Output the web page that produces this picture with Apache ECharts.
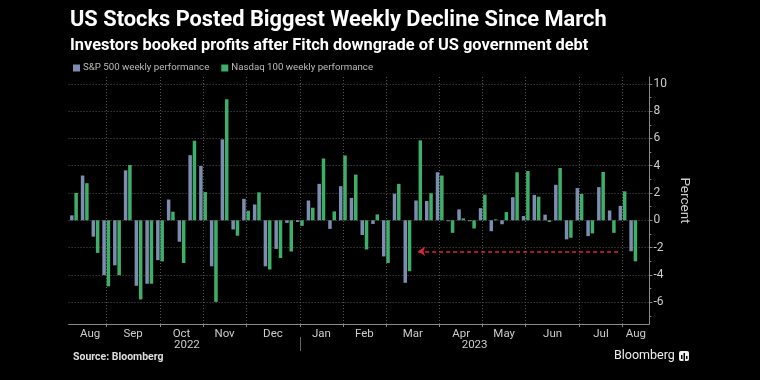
<!DOCTYPE html>
<html>
<head>
<meta charset="utf-8">
<script src="https://cdn.jsdelivr.net/npm/echarts@6/dist/echarts.min.js"></script>
<style>
html,body{margin:0;padding:0;background:#000;}
#chart{width:760px;height:380px;}
</style>
</head>
<body>
<div id="chart"></div>
<script>
// ---- data ----
const weeks = [
  '2022-08-05','2022-08-12','2022-08-19','2022-08-26',
  '2022-09-02','2022-09-09','2022-09-16','2022-09-23','2022-09-30',
  '2022-10-07','2022-10-14','2022-10-21','2022-10-28',
  '2022-11-04','2022-11-11','2022-11-18','2022-11-25',
  '2022-12-02','2022-12-09','2022-12-16','2022-12-23','2022-12-30',
  '2023-01-06','2023-01-13','2023-01-20','2023-01-27',
  '2023-02-03','2023-02-10','2023-02-17','2023-02-24',
  '2023-03-03','2023-03-10','2023-03-17','2023-03-24','2023-03-31',
  '2023-04-06','2023-04-14','2023-04-21','2023-04-28',
  '2023-05-05','2023-05-12','2023-05-19','2023-05-26',
  '2023-06-02','2023-06-09','2023-06-16','2023-06-23','2023-06-30',
  '2023-07-07','2023-07-14','2023-07-21','2023-07-28',
  '2023-08-04'
];
const sp500 = [0.36, 3.28, -1.2, -4.02, -3.3, 3.66, -4.8, -4.65, -2.92, 1.52, -1.57, 4.77, 3.98,
  -3.37, 5.93, -0.67, 1.57, 1.16, -3.37, -2.1, -0.19, -0.12, 1.45, 2.67, -0.63, 2.5, 1.64, -1.08,
  -0.27, -2.65, 1.95, -4.58, 1.45, 1.42, 3.52, -0.07, 0.8, -0.07, 0.89, -0.8, -0.29, 1.69, 0.31,
  1.86, 0.41, 2.6, -1.4, 2.36, -1.16, 2.43, 0.72, 1.06, -2.27];
const nasdaq100 = [2.0, 2.72, -2.39, -4.84, -4.02, 4.05, -5.8, -4.65, -3.01, 0.63, -3.13, 5.83, 2.07,
  -5.98, 8.87, -1.13, 0.7, 2.05, -3.61, -2.77, -2.29, -0.41, 0.92, 4.53, 0.65, 4.75, 3.35, -2.14,
  0.43, -3.13, 2.67, -3.73, 5.86, 1.98, 3.28, -0.92, 0.14, -0.6, 1.88, 0.07, 0.6, 3.52, 3.61,
  1.73, -0.12, 3.83, -1.28, 1.93, -0.96, 3.54, -0.92, 2.12, -3.01];
const monthNames = ['Jan','Feb','Mar','Apr','May','Jun','Jul','Aug','Sep','Oct','Nov','Dec'];
const yMajorTicks = [-6, -4, -2, 0, 2, 4, 6, 8, 10];
const yMinorTicks = [-7, -5, -3, -1, 1, 3, 5, 7, 9];
// annotation: reference line at latest S&P decline back to March
const refLineFrom = 32.2;   // week index (mid March)
const refLineTo = 51;       // week index (end of July)
const seriesNames = ['S&P 500 weekly performance', 'Nasdaq 100 weekly performance'];

// ---- derived axis positions ----
const X_MIN = -0.5, X_MAX = 53.5;
const GRID_LEFT = 68.6, GRID_RIGHT = 110.6, CHART_W = 760;
const monthKey = d => d.slice(0, 7);
const seps = [];
for (let i = 0; i < weeks.length - 1; i++) {
  if (monthKey(weeks[i]) !== monthKey(weeks[i + 1])) seps.push(i);
}
const edges = [0].concat(seps).concat([X_MAX]);
const monthLabels = [];
for (let k = 0; k < edges.length - 1; k++) {
  const idx = k === 0 ? 0 : seps[k - 1] + 1;
  monthLabels.push({ pos: (edges[k] + edges[k + 1]) / 2, text: monthNames[+weeks[idx].slice(5, 7) - 1] });
}
const yearSeps = [];
for (let i = 0; i < weeks.length - 1; i++) {
  if (weeks[i].slice(0, 4) !== weeks[i + 1].slice(0, 4)) yearSeps.push(i);
}
const yEdges = [0].concat(yearSeps).concat([X_MAX]);
const yearLabels = [];
for (let k = 0; k < yEdges.length - 1; k++) {
  const idx = k === 0 ? 0 : yearSeps[k - 1] + 1;
  yearLabels.push({ pos: (yEdges[k] + yEdges[k + 1]) / 2, text: weeks[idx].slice(0, 4) });
}
const findLabel = (arr, v) => { const f = arr.find(o => Math.abs(o.pos - v) < 1e-6); return f ? f.text : ''; };

const FONT = 'Roboto';
const chart = echarts.init(document.getElementById('chart'), null, { renderer: 'canvas' });
chart.setOption({
  backgroundColor: '#000',
  animation: false,
  title: [
    { text: 'US Stocks Posted Biggest Weekly Decline Since March', left: 70, top: 10, padding: 0,
      textStyle: { color: '#fff', fontSize: 21.8, fontWeight: 'bold', fontFamily: FONT } },
    { text: 'Investors booked profits after Fitch downgrade of US government debt', left: 70, top: 38, padding: 0,
      textStyle: { color: '#fff', fontSize: 16.4, fontWeight: 'bold', fontFamily: FONT } }
  ],
  legend: {
    left: 73, top: 63, padding: 0, itemGap: 12, itemWidth: 7, itemHeight: 7, icon: 'rect',
    textStyle: { color: '#bbb', fontSize: 9.7, fontFamily: FONT, padding: [0, 0, 0, -2] },
    data: seriesNames
  },
  grid: { left: GRID_LEFT, right: GRID_RIGHT, top: 77, bottom: 56, containLabel: false },
  xAxis: [
    { type: 'value', min: X_MIN, max: X_MAX,
      axisLine: { show: true, onZero: false, lineStyle: { color: '#888', width: 1 } },
      axisTick: { show: true, customValues: seps, length: 3, lineStyle: { color: '#888' } },
      splitLine: { show: true, lineStyle: { color: '#555', type: [1, 2], width: 1 } },
      axisLabel: { customValues: monthLabels.map(o => o.pos), formatter: v => findLabel(monthLabels, v),
        color: '#ccc', fontSize: 11.5, fontFamily: FONT, margin: 4 } },
    { type: 'value', min: X_MIN, max: X_MAX, position: 'bottom', offset: 13,
      axisLine: { show: false, onZero: false },
      axisTick: { show: true, customValues: yearSeps, length: 14, lineStyle: { color: '#666' } },
      splitLine: { show: false },
      axisLabel: { customValues: yearLabels.map(o => o.pos), formatter: v => findLabel(yearLabels, v),
        color: '#ccc', fontSize: 11.5, fontFamily: FONT, margin: 2 } }
  ],
  yAxis: [
    { type: 'value', position: 'right', min: -7.6, max: 10.5,
      name: 'Percent', nameLocation: 'middle', nameRotate: -90, nameGap: 28,
      nameTextStyle: { color: '#ccc', fontSize: 13.5, fontFamily: FONT },
      axisLine: { show: true, onZero: false, lineStyle: { color: '#888' } },
      axisTick: { show: true, customValues: yMajorTicks, length: 3, lineStyle: { color: '#888' } },
      splitLine: { show: true, lineStyle: { color: '#555', type: [1, 2], width: 1 } },
      axisLabel: { customValues: yMajorTicks, color: '#ccc', fontSize: 12, fontFamily: FONT, margin: 4 } },
    // minor ticks: a left axis shifted onto the right edge, ticks pointing outward (right)
    { type: 'value', position: 'left', min: -7.6, max: 10.5,
      offset: -(CHART_W - GRID_LEFT - GRID_RIGHT),
      axisLine: { show: false, onZero: false },
      axisTick: { show: true, inside: true, customValues: yMinorTicks, length: 2, lineStyle: { color: '#888' } },
      splitLine: { show: false },
      axisLabel: { show: false } }
  ],
  series: [
    { name: seriesNames[0], type: 'bar', xAxisIndex: 0, yAxisIndex: 0,
      barWidth: 3.5, barGap: '23%',
      itemStyle: { color: '#7d8db0' },
      data: sp500.map((v, i) => [i, v]),
      markLine: {
        silent: true, symbol: ['arrow', 'none'], symbolSize: [7, 7],
        label: { show: false },
        lineStyle: { color: '#d9263b', type: [4, 3], width: 1.5 },
        data: [[{ coord: [refLineFrom, sp500[sp500.length - 1]] }, { coord: [refLineTo, sp500[sp500.length - 1]] }]]
      } },
    { name: seriesNames[1], type: 'bar', xAxisIndex: 0, yAxisIndex: 0,
      barWidth: 3.5, barGap: '23%',
      itemStyle: { color: '#3fae68' },
      data: nasdaq100.map((v, i) => [i, v]) }
  ],
  graphic: [
    { type: 'text', left: 73, top: 352, style: { text: 'Source: Bloomberg', fill: '#ddd',
      font: 'bold 10.5px ' + FONT } },
    { type: 'text', left: 614, top: 349, style: { text: 'Bloomberg', fill: '#eee', font: '12.5px ' + FONT } },
    { type: 'group', left: 679, top: 351, children: [
      { type: 'rect', shape: { x: 0, y: 0, width: 10, height: 10, r: 2 }, style: { fill: '#eee' } },
      { type: 'rect', shape: { x: 2, y: 4, width: 1.5, height: 4 }, style: { fill: '#000' } },
      { type: 'rect', shape: { x: 4.5, y: 2, width: 1.5, height: 8 }, style: { fill: '#000' } },
      { type: 'rect', shape: { x: 7, y: 5, width: 1.5, height: 3 }, style: { fill: '#000' } }
    ] }
  ]
});
</script>
</body>
</html>
